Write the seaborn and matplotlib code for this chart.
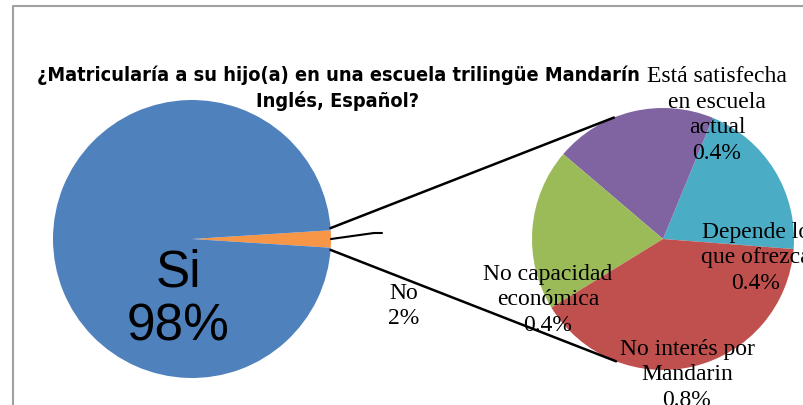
import numpy as np
import matplotlib
matplotlib.use("Agg")
import matplotlib.pyplot as plt
import seaborn as sns

# ---- data ----
main_labels = ["No", "Si"]
main_values = [2, 98]
main_colors = ["#F79646", "#4F81BD"]

sub_labels = ["Depende lo\nque ofrezca", "Está satisfecha\nen escuela\nactual",
              "No capacidad\neconómica", "No interés por\nMandarin"]
sub_values = [0.4, 0.4, 0.4, 0.8]
sub_colors = ["#4BACC6", "#8064A2", "#9BBB59", "#C0504D"]

title = "¿Matricularía a su hijo(a) en una escuela trilingüe Mandarín\nInglés, Español?"

sns.set_theme(style="white")
plt.rcParams['font.family'] = ['DejaVu Sans']
plt.rcParams['text.color'] = 'black'

W, H = 804, 406
fig = plt.figure(figsize=(W / 100, H / 100), dpi=100)
ax = fig.add_axes([0, 0, 1, 1])

# main pie
c1 = (192, H - 240)
r1 = 139
half = 360 * main_values[0] / sum(main_values) / 2
ax.pie(main_values, colors=main_colors, startangle=-half, counterclock=True,
       center=c1, radius=r1, wedgeprops=dict(linewidth=0), frame=True)

# secondary pie
c2 = (663, H - 240)
r2 = 131
ax.pie(sub_values, colors=sub_colors, startangle=-4.4, counterclock=True,
       center=c2, radius=r2, wedgeprops=dict(linewidth=0), frame=True)

ax.set_xlim(0, W)
ax.set_ylim(0, H)
ax.set_aspect('equal')
ax.axis('off')

# border frame (cut by the figure edge)
ax.plot([13.5, 13.5, W + 5], [-5, H - 7, H - 7], color="#A0A0A0", lw=1.5)

# connector lines
for a1, a2 in [(half * 1.25, 112), (-half * 1.25, -111)]:
    p1 = (c1[0] + r1 * np.cos(np.radians(a1)), c1[1] + r1 * np.sin(np.radians(a1)))
    p2 = (c2[0] + r2 * np.cos(np.radians(a2)), c2[1] + r2 * np.sin(np.radians(a2)))
    ax.plot([p1[0], p2[0]], [p1[1], p2[1]], color="black", lw=1.8)

# leader for No label
p0 = (c1[0] + r1, c1[1])
ax.plot([p0[0], p0[0] + 43, p0[0] + 51], [p0[1], p0[1] + 6, p0[1] + 6], color="black", lw=1.5)

serif = ['Liberation Serif', 'DejaVu Serif']

ax.text(404, H - 306, f"{main_labels[0]}\n{main_values[0]}%", ha='center', va='center',
        family=serif, fontsize=17, linespacing=1.3)
ax.text(178, H - 300, f"{main_labels[1]}\n{main_values[1]}%", ha='center', va='center',
        family=['Liberation Sans', 'DejaVu Sans'], fontsize=37, linespacing=1.15)

# sub labels
sub_pos = [(756, H - 258), (717, H - 115), (548, H - 300), (687, H - 375)]
for lab, v, (x, y) in zip(sub_labels, sub_values, sub_pos):
    ax.text(x, y, f"{lab}\n{v}%", ha='center', va='center', family=serif,
            fontsize=17, linespacing=1.3)

fig.text(338 / W, 1 - 88 / H, title, ha='center', va='center',
         family=['Liberation Sans Narrow', 'DejaVu Sans Condensed', 'DejaVu Sans'],
         fontstretch='condensed', fontweight='bold', fontsize=14.3, linespacing=1.35)

fig.savefig("out.png", dpi=100)
